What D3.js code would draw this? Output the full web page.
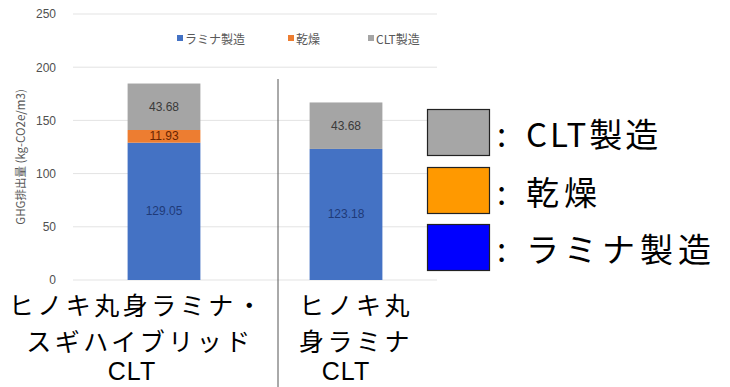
<!DOCTYPE html>
<html><head><meta charset="utf-8">
<script src="https://cdn.jsdelivr.net/npm/d3@7"></script>
<style>html,body{margin:0;padding:0;background:#fff;}svg{display:block;}</style>
</head><body>
<svg id="c" width="730" height="387"></svg>
<script>
const categories = ["hybrid", "hinoki"];
const categoryLines = [["ヒノキ丸身ラミナ・","スギハイブリッド","CLT"],["ヒノキ丸","身ラミナ","CLT"]];
const seriesNames = ["ラミナ製造","乾燥","CLT製造"];
const laminaValues = [129.05, 123.18];
const dryingValues = [11.93, 0];
const cltValues = [43.68, 43.68];
const yTicks = [0, 50, 100, 150, 200, 250];
const bigLegendLabels = ["CLT製造","乾燥","ラミナ製造"];

const barColors = ["#4472C4","#ED7D31","#A5A5A5"];
const labelColors = ["#1f3a78","#6a2400","#3a3a3a"];
const bigLegendColors = ["#a6a6a6","#ff9900","#0000ff"];

const svg = d3.select("#c");
const x = d3.scaleBand().domain(categories).range([73, 437]).paddingInner(0.6).paddingOuter(0.3);
const y = d3.scaleLinear().domain([0, 250]).range([280, 14]);

// gridlines
svg.append("g").selectAll("line").data(yTicks).join("line")
  .attr("x1", 73).attr("x2", 437)
  .attr("y1", d => y(d)).attr("y2", d => y(d))
  .attr("stroke", "#e3e3e3").attr("stroke-width", 1);

// y tick labels via axis
const yAxis = svg.append("g").attr("transform", "translate(60,0)")
  .call(d3.axisLeft(y).tickValues(yTicks).tickSize(0).tickPadding(4));
yAxis.select(".domain").remove();
yAxis.selectAll("text").attr("font-family", "Liberation Sans, Arial, sans-serif")
  .attr("font-size", 12).attr("fill", "#505050");

// y axis title
svg.append("text")
  .attr("transform", `translate(20,${(y(0)+y(250))/2 + 10}) rotate(-90)`)
  .attr("text-anchor", "middle").attr("dominant-baseline", "central")
  .attr("font-family", "Noto Sans CJK JP, sans-serif").attr("font-size", 11.5)
  .attr("fill", "#595959")
  .text("GHG排出量 (kg-CO2e/m3)");

// stacked bars
const rows = categories.map((c, i) => ({cat: c, lamina: laminaValues[i], drying: dryingValues[i], clt: cltValues[i]}));
const stack = d3.stack().keys(["lamina","drying","clt"])(rows);
const gBars = svg.append("g");
stack.forEach((layer, k) => {
  gBars.append("g").selectAll("rect").data(layer).join("rect")
    .attr("x", d => x(d.data.cat)).attr("width", x.bandwidth())
    .attr("y", d => y(d[1])).attr("height", d => y(d[0]) - y(d[1]))
    .attr("fill", barColors[k]);
  gBars.append("g").selectAll("text").data(layer.filter(d => d[1] - d[0] > 0)).join("text")
    .attr("x", d => x(d.data.cat) + x.bandwidth()/2)
    .attr("y", d => (y(d[0]) + y(d[1]))/2)
    .attr("text-anchor", "middle").attr("dominant-baseline", "central")
    .attr("font-family", "Liberation Sans, Arial, sans-serif").attr("font-size", 12)
    .attr("fill", labelColors[k])
    .text(d => (d[1] - d[0]).toFixed(2));
});

// small legend
const smallLegendX = [177, 288, 368];
const sl = svg.append("g");
[0,1,2].forEach(i => {
  sl.append("rect").attr("x", smallLegendX[i]).attr("y", 35).attr("width", 6).attr("height", 6).attr("fill", barColors[i]);
  sl.append("text").attr("x", smallLegendX[i] + 8).attr("y", 38)
    .attr("dominant-baseline", "central")
    .attr("font-family", "Noto Sans CJK JP, sans-serif").attr("font-size", 12)
    .attr("fill", "#595959")
    .text(seriesNames[i]);
});

// white area below plot
svg.append("rect").attr("x", 0).attr("y", 284).attr("width", 440).attr("height", 103).attr("fill", "#fff");

// category labels
const catOffsets = [[-27,-24,-32],[10,10,0]];
const lineY = [304, 340, 371];
const lineSize = [25, 25, 25];
const lineFont = ["Noto Sans CJK JP, sans-serif", "Noto Sans CJK JP, sans-serif", "Liberation Sans Narrow, Liberation Sans, sans-serif"];
categories.forEach((c, i) => {
  categoryLines[i].forEach((t, j) => {
    svg.append("text")
      .attr("x", x(c) + x.bandwidth()/2 + catOffsets[i][j]).attr("y", lineY[j])
      .attr("text-anchor", "middle").attr("dominant-baseline", "central")
      .attr("font-family", lineFont[j]).attr("font-size", lineSize[j])
      .attr("letter-spacing", j === 2 ? 1 : 3.5).attr("fill", "#000")
      .text(t);
  });
});

// separator
svg.append("line").attr("x1", 278).attr("x2", 278).attr("y1", 79).attr("y2", 387)
  .attr("stroke", "#555").attr("stroke-width", 1);

// big legend
const bigY = [109, 167, 224];
const bigSpacing = [3, 5, 5];
bigLegendLabels.forEach((t, i) => {
  svg.append("rect").attr("x", 427.5).attr("y", bigY[i] + 0.5).attr("width", 62).attr("height", 46)
    .attr("fill", bigLegendColors[i]).attr("stroke", "#222").attr("stroke-width", 1.2);
  svg.append("text").attr("x", 497).attr("y", bigY[i] + 24)
    .attr("dominant-baseline", "central")
    .attr("font-family", "Noto Sans CJK JP, sans-serif").attr("font-size", 33)
    .attr("fill", "#000")
    .text(": ");
  svg.append("text").attr("x", 526).attr("y", bigY[i] + 24)
    .attr("dominant-baseline", "central")
    .attr("font-family", "Noto Sans CJK JP, sans-serif").attr("font-size", 33)
    .attr("letter-spacing", bigSpacing[i]).attr("fill", "#000")
    .text(t);
});
</script>
</body></html>
